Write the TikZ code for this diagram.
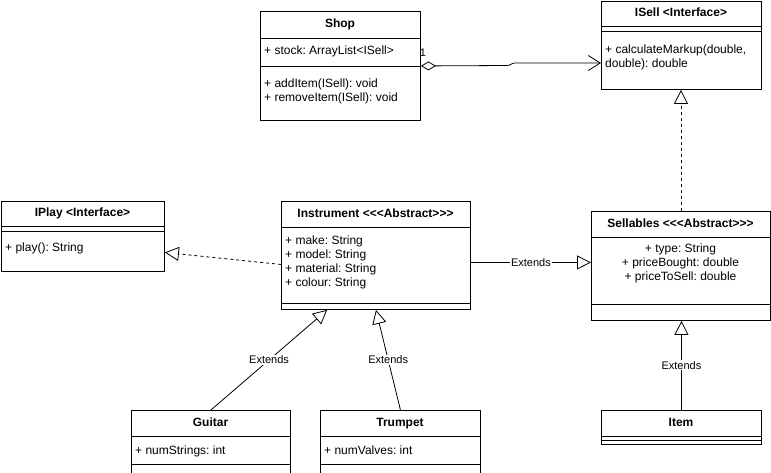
\documentclass[tikz,border=0pt]{standalone}
\usepackage{fontspec}
\setmainfont{Liberation Sans}[Ligatures=TeXOff]
\usetikzlibrary{
    arrows.meta,
    calc,
    positioning
}
\tikzset{classbox/.style={draw=black, anchor=north west, inner sep=0pt, line width=0.9pt}}
\tikzset{cname/.style={inner sep=0pt, text height=9pt, text depth=2.5pt, font=\bfseries\fontsize{12}{14}\selectfont}}
\tikzset{member/.style={anchor=base west, inner sep=0pt, font=\fontsize{12}{14}\selectfont}}
\tikzset{elabel/.style={fill=white, inner sep=1pt, font=\fontsize{11}{13}\selectfont}}
\tikzset{extends/.style={line width=0.8pt, -{Triangle[open, length=14pt, width=14pt]}}}
\tikzset{realizes/.style={extends, dash pattern=on 3pt off 3pt}}
\tikzset{aggr/.style={line width=0.8pt, {Diamond[open, length=15pt, width=9pt]}-{Straight Barb[length=12pt, width=15pt]}}}

\begin{document}
\frenchspacing
\begin{tikzpicture}[x=1pt, y=-1pt]
                        \useasboundingbox (0,0) rectangle (771,472);

                        % Shop
                        \node[classbox, minimum width=160pt, minimum height=109pt] (shop) at (260,11) {};
                        \node[cname] (shopname) at (340,24.5) {Shop};
                        \draw[line width=0.9pt]
                        ([yshift=-27pt]shop.north west) -- ([yshift=-27pt]shop.north east)
                        ([yshift=-55pt]shop.north west) -- ([yshift=-55pt]shop.north east);
                        \node[member] (shopstock) at (264,54) {+ stock: ArrayList<ISell>};
                        \node[member] (shopadd) at (264,87) {+ addItem(ISell): void};
                        \node[member] (shoprem) at (264,101) {+ removeItem(ISell): void};

                        % ISell
                        \node[classbox, minimum width=160pt, minimum height=88pt] (isell) at (601,1) {};
                        \node[cname] (isellname) at (681,13.5) {ISell <Interface>};
                        \draw[line width=0.9pt]
                        ([yshift=-25pt]isell.north west) -- ([yshift=-25pt]isell.north east)
                        ([yshift=-30pt]isell.north west) -- ([yshift=-30pt]isell.north east);
                        \node[member] (isellcalc) at (605,53) {+ calculateMarkup(double,};
                        \node[member] (isellcalcb) at (605,67) {double): double};

                        % IPlay
                        \node[classbox, minimum width=163pt, minimum height=70pt] (iplay) at (1,201) {};
                        \node[cname] (iplayname) at (82.5,213.5) {IPlay <Interface>};
                        \draw[line width=0.9pt]
                        ([yshift=-25pt]iplay.north west) -- ([yshift=-25pt]iplay.north east)
                        ([yshift=-30pt]iplay.north west) -- ([yshift=-30pt]iplay.north east);
                        \node[member] (iplayplay) at (5,251) {+ play(): String};

                        % Instrument
                        \node[classbox, minimum width=189pt, minimum height=108pt] (instr) at (281,201) {};
                        \node[cname] (instrname) at (375.5,214) {Instrument <<<Abstract>>>};
                        \draw[line width=0.9pt]
                        ([yshift=-26pt]instr.north west) -- ([yshift=-26pt]instr.north east)
                        ([yshift=-102pt]instr.north west) -- ([yshift=-102pt]instr.north east);
                        \node[member] (instrmake) at (285,244) {+ make: String};
                        \node[member] (instrmodel) at (285,258) {+ model: String};
                        \node[member] (instrmat) at (285,272) {+ material: String};
                        \node[member] (instrcol) at (285,286) {+ colour: String};

                        % Sellables
                        \node[classbox, minimum width=179pt, minimum height=109pt] (sell) at (591,211) {};
                        \node[cname] (sellname) at (680.5,224) {Sellables <<<Abstract>>>};
                        \draw[line width=0.9pt]
                        ([yshift=-26pt]sell.north west) -- ([yshift=-26pt]sell.north east)
                        ([yshift=-93pt]sell.north west) -- ([yshift=-93pt]sell.north east);
                        \node[member, anchor=base] (selltype) at (680.5,252) {+ type: String};
                        \node[member, anchor=base] (sellbought) at (680.5,266) {+ priceBought: double};
                        \node[member, anchor=base] (sellsell) at (680.5,280) {+ priceToSell: double};

                        % Guitar, Trumpet, Item
                        \node[classbox, minimum width=159pt, minimum height=80pt] (guitar) at (131,410) {};
                        \node[cname] (guitarname) at (210.5,423) {Guitar};
                        \draw[line width=0.9pt]
                        ([yshift=-26pt]guitar.north west) -- ([yshift=-26pt]guitar.north east)
                        ([yshift=-54pt]guitar.north west) -- ([yshift=-54pt]guitar.north east);
                        \node[member] (guitarnum) at (135,454) {+ numStrings: int};

                        \node[classbox, minimum width=160pt, minimum height=80pt] (trumpet) at (320,410) {};
                        \node[cname] (trumpetname) at (400,423) {Trumpet};
                        \draw[line width=0.9pt]
                        ([yshift=-26pt]trumpet.north west) -- ([yshift=-26pt]trumpet.north east)
                        ([yshift=-54pt]trumpet.north west) -- ([yshift=-54pt]trumpet.north east);
                        \node[member] (trumpetnum) at (324,454) {+ numValves: int};

                        \node[classbox, minimum width=160pt, minimum height=34pt] (item) at (601,410) {};
                        \node[cname] (itemname) at (681,423) {Item};
                        \draw[line width=0.9pt]
                        ([yshift=-26pt]item.north west) -- ([yshift=-26pt]item.north east)
                        ([yshift=-30pt]item.north west) -- ([yshift=-30pt]item.north east);

                        % connectors
                        \coordinate (jogl) at (507,65.5);
                        \coordinate (jogr) at (515,63);
                        \draw[aggr] (shop.east) -- (jogl) .. controls +(4,0) and +(-4,0) .. (jogr) -- (isell.west |- jogr);
                        \node[elabel, fill=none] (mult) at (423,53) {1};

                        \draw[realizes] (sell.north) -- (sell.north |- isell.south);
                        \draw[realizes] ([yshift=-9pt]instr.west) -- ([yshift=-16pt]iplay.east);

                        \coordinate (ginst) at ($(instr.south west)!0.243!(instr.south east)$);
                        \draw[extends] (guitar.north) -- node[elabel]{Extends} (ginst);
                        \draw[extends] (trumpet.north) -- node[elabel]{Extends} (instr.south);
                        \draw[extends] ([yshift=-7pt]instr.east) -- node[elabel]{Extends} ([yshift=3.5pt]sell.west);
                        \draw[extends] (item.north) -- node[elabel]{Extends} (item.north |- sell.south);
                    \end{tikzpicture}
\end{document}
